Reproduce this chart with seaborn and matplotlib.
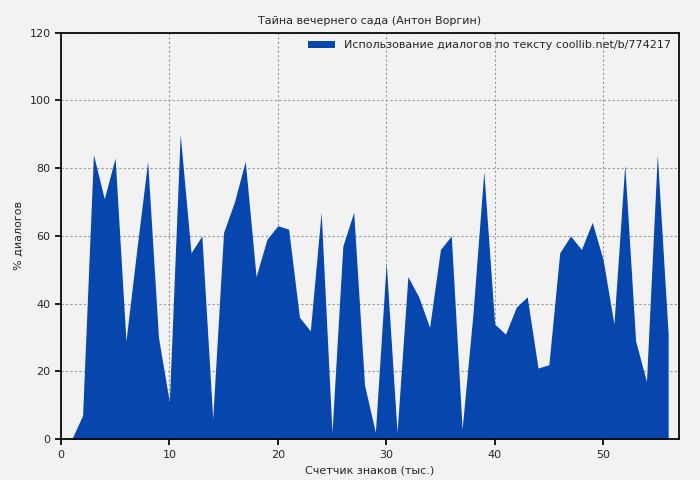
import matplotlib
matplotlib.use('Agg')
import matplotlib.pyplot as plt
import seaborn as sns
import pandas as pd

# x in thousands of characters, y in % of dialogue
chars_k = list(range(1, 57))
dialog_pct = [0, 7, 84, 71, 83, 29, 56, 82, 30, 11,
              90, 55, 60, 6, 61, 70, 82, 48, 59, 63,
              62, 36, 32, 67, 2, 57, 67, 16, 2, 52,
              2, 48, 42, 33, 56, 60, 3, 37, 79, 34,
              31, 39, 42, 21, 22, 55, 60, 56, 64, 53,
              34, 81, 29, 17, 84, 31]

df = pd.DataFrame({'x': chars_k, 'y': dialog_pct})

sns.set_theme(style='ticks', rc={'axes.facecolor': '#f2f2f2',
                                 'figure.facecolor': '#f2f2f2'})
plt.rcParams['font.family'] = ['DejaVu Sans']
blue = '#0746ad'

fig, ax = plt.subplots(figsize=(7, 4.8), dpi=100)
ax.fill_between(df['x'], df['y'], color=blue, linewidth=0,
                label='Использование диалогов по тексту coollib.net/b/774217')

ax.set_xlim(0, 57)
ax.set_ylim(0, 120)
ax.set_xticks(range(0, 51, 10))
ax.set_yticks(range(0, 121, 20))
ax.grid(True, color='#999999', linestyle=(0, (2, 2)), linewidth=0.8)
ax.tick_params(labelsize=8, direction='out', length=4, color='black')
for s in ax.spines.values():
    s.set_color('black')

ax.set_title('Тайна вечернего сада (Антон Воргин)', fontsize=8)
ax.set_xlabel('Счетчик знаков (тыс.)', fontsize=8)
ax.set_ylabel('% диалогов', fontsize=8)
ax.legend(loc='upper right', frameon=False, fontsize=8,
          handlelength=2.5, borderaxespad=0.3)

plt.subplots_adjust(left=0.087, right=0.97, top=0.932, bottom=0.085)
plt.savefig('out.png', dpi=100)
